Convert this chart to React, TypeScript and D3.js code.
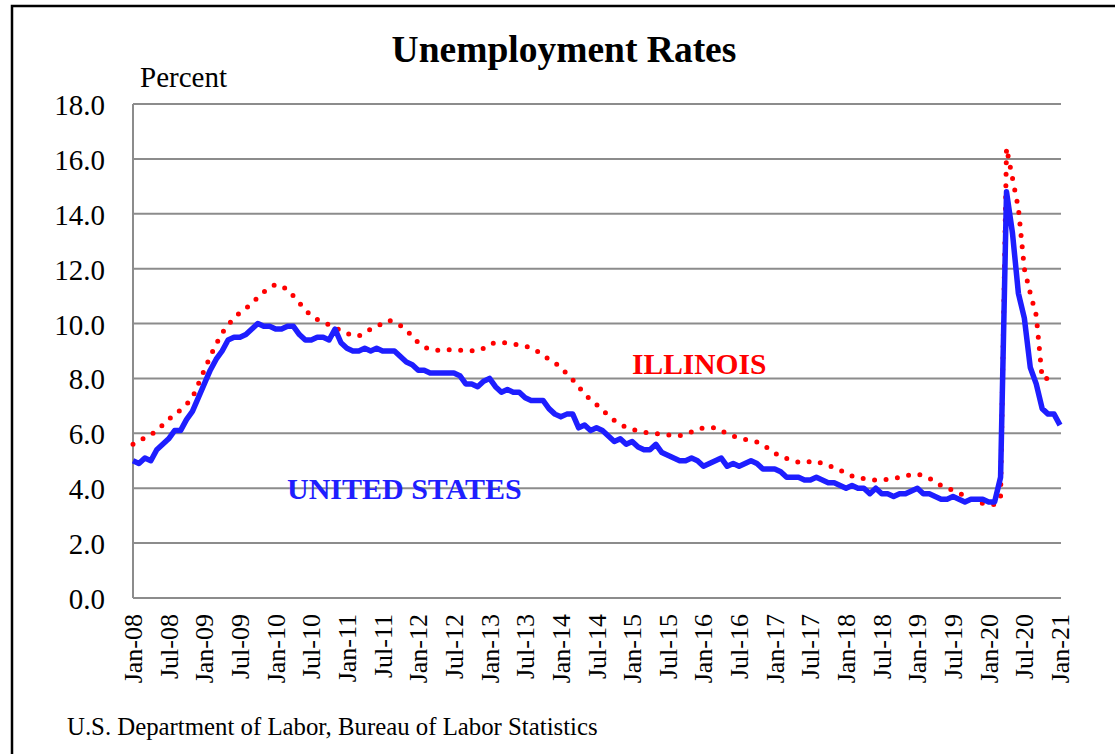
import React from "react";
import * as d3 from "d3";

// Monthly unemployment rates, Jan-08 .. Jan-21 (percent)
const usRate: number[] = [
  5.0, 4.9, 5.1, 5.0, 5.4, 5.6, 5.8, 6.1, 6.1, 6.5, 6.8, 7.3,
  7.8, 8.3, 8.7, 9.0, 9.4, 9.5, 9.5, 9.6, 9.8, 10.0, 9.9, 9.9,
  9.8, 9.8, 9.9, 9.9, 9.6, 9.4, 9.4, 9.5, 9.5, 9.4, 9.8, 9.3,
  9.1, 9.0, 9.0, 9.1, 9.0, 9.1, 9.0, 9.0, 9.0, 8.8, 8.6, 8.5,
  8.3, 8.3, 8.2, 8.2, 8.2, 8.2, 8.2, 8.1, 7.8, 7.8, 7.7, 7.9,
  8.0, 7.7, 7.5, 7.6, 7.5, 7.5, 7.3, 7.2, 7.2, 7.2, 6.9, 6.7,
  6.6, 6.7, 6.7, 6.2, 6.3, 6.1, 6.2, 6.1, 5.9, 5.7, 5.8, 5.6,
  5.7, 5.5, 5.4, 5.4, 5.6, 5.3, 5.2, 5.1, 5.0, 5.0, 5.1, 5.0,
  4.8, 4.9, 5.0, 5.1, 4.8, 4.9, 4.8, 4.9, 5.0, 4.9, 4.7, 4.7,
  4.7, 4.6, 4.4, 4.4, 4.4, 4.3, 4.3, 4.4, 4.3, 4.2, 4.2, 4.1,
  4.0, 4.1, 4.0, 4.0, 3.8, 4.0, 3.8, 3.8, 3.7, 3.8, 3.8, 3.9,
  4.0, 3.8, 3.8, 3.7, 3.6, 3.6, 3.7, 3.6, 3.5, 3.6, 3.6, 3.6,
  3.5, 3.5, 4.4, 14.8, 13.3, 11.1, 10.2, 8.4, 7.8, 6.9, 6.7, 6.7,
  6.3,
];

// Illinois, Jan-08 .. Dec-20 (percent)
const ilRate: number[] = [
  5.6, 5.7, 5.85, 5.95, 6.1, 6.3, 6.5, 6.7, 6.85, 7.05, 7.3, 7.8,
  8.3, 8.8, 9.25, 9.65, 9.95, 10.2, 10.4, 10.55, 10.75, 10.95, 11.15, 11.3,
  11.43, 11.35, 11.25, 11.0, 10.75, 10.5, 10.27, 10.15, 10.05, 9.95, 9.85, 9.75,
  9.65, 9.55, 9.55, 9.65, 9.8, 9.9, 10.0, 10.12, 10.05, 9.93, 9.75, 9.55,
  9.3, 9.15, 9.06, 9.03, 9.01, 9.04, 9.05, 9.03, 9.01, 9.01, 9.01, 9.1,
  9.25, 9.3, 9.32, 9.28, 9.25, 9.23, 9.18, 9.12, 9.0, 8.85, 8.7, 8.57,
  8.4, 8.17, 7.95, 7.7, 7.42, 7.23, 7.05, 6.85, 6.65, 6.47, 6.33, 6.22,
  6.15, 6.08, 6.04, 6.01, 5.99, 5.97, 5.94, 5.92, 5.92, 5.96, 6.05, 6.15,
  6.2, 6.22, 6.2, 6.1, 5.98, 5.9, 5.83, 5.78, 5.73, 5.68, 5.58, 5.43,
  5.28, 5.14, 5.08, 5.02, 4.95, 4.93, 4.98, 4.99, 4.9, 4.82, 4.76, 4.66,
  4.55, 4.45, 4.38, 4.35, 4.31, 4.3, 4.3, 4.32, 4.35, 4.4, 4.46, 4.49,
  4.52, 4.45, 4.37, 4.22, 4.1, 4.0, 3.92, 3.82, 3.73, 3.6, 3.5, 3.45,
  3.45, 3.4, 3.7, 16.4, 15.3, 14.2, 12.0, 11.1, 10.3, 8.0, 8.0, 8.0,
];

const tickLabels: string[] = [
  "Jan-08", "Jul-08", "Jan-09", "Jul-09", "Jan-10", "Jul-10", "Jan-11", "Jul-11",
  "Jan-12", "Jul-12", "Jan-13", "Jul-13", "Jan-14", "Jul-14", "Jan-15", "Jul-15",
  "Jan-16", "Jul-16", "Jan-17", "Jul-17", "Jan-18", "Jul-18", "Jan-19", "Jul-19",
  "Jan-20", "Jul-20", "Jan-21",
];
const tickStep = 6; // months between labels

const yTicks: number[] = [0, 2, 4, 6, 8, 10, 12, 14, 16, 18];

const W = 1115;
const H = 754;
const plot = { left: 133, right: 1060, gridRight: 1061, top: 104, bottom: 598 };
const serif = "'Liberation Serif', 'Times New Roman', serif";

export default function App() {
  const x = d3.scaleLinear().domain([0, usRate.length - 1]).range([plot.left, plot.right]);
  const y = d3.scaleLinear().domain([0, 18]).range([plot.bottom, plot.top]);
  const line = d3
    .line<number>()
    .x((_, i) => x(i))
    .y((d) => y(d));

  return (
    <svg
      width={W}
      height={H}
      style={{ position: "absolute", left: 0, top: 0, background: "#fff" }}
      fontFamily={serif}
    >
      <rect x={0} y={0} width={W} height={H} fill="#fff" />
      {/* outer frame */}
      <path d={`M12,${H + 5} L12,6 L${W + 5},6`} fill="none" stroke="#000" strokeWidth={2.5} />

      {/* gridlines */}
      {yTicks.map((t) => (
        <line
          key={t}
          x1={plot.left}
          x2={plot.gridRight}
          y1={y(t)}
          y2={y(t)}
          stroke="#8c8c8c"
          strokeWidth={2}
        />
      ))}
      <line x1={plot.left} x2={plot.left} y1={plot.top} y2={plot.bottom} stroke="#8c8c8c" strokeWidth={2} />

      {/* y tick labels */}
      {yTicks.map((t) => (
        <text key={t} x={105} y={y(t) + 11} textAnchor="end" fontSize={29} fill="#000">
          {t.toFixed(1)}
        </text>
      ))}

      {/* x tick labels */}
      {tickLabels.map((lab, i) => {
        const px = x(i * tickStep);
        return (
          <text
            key={lab}
            transform={`translate(${px + 9},614) rotate(-90)`}
            textAnchor="end"
            fontSize={26}
            fill="#000"
          >
            {lab}
          </text>
        );
      })}

      {/* series */}
      <path
        d={line(ilRate) || ""}
        fill="none"
        stroke="#ff0000"
        strokeWidth={5}
        strokeLinecap="round"
        strokeDasharray="0 11.5"
      />
      <path
        d={line(usRate) || ""}
        fill="none"
        stroke="#1e1eff"
        strokeWidth={5.5}
        strokeLinejoin="round"
      />

      {/* texts */}
      <text x={564} y={62} textAnchor="middle" fontSize={37.5} fontWeight="bold" fill="#000">
        Unemployment Rates
      </text>
      <text x={140} y={87} fontSize={29} fill="#000">
        Percent
      </text>
      <text x={632} y={374} fontSize={29.5} fontWeight="bold" fill="#ff0000">
        ILLINOIS
      </text>
      <text x={287} y={499} fontSize={30} fontWeight="bold" fill="#1e1eff">
        UNITED STATES
      </text>
      <text x={67} y={735} fontSize={24.8} fill="#000">
        U.S. Department of Labor, Bureau of Labor Statistics
      </text>
    </svg>
  );
}
